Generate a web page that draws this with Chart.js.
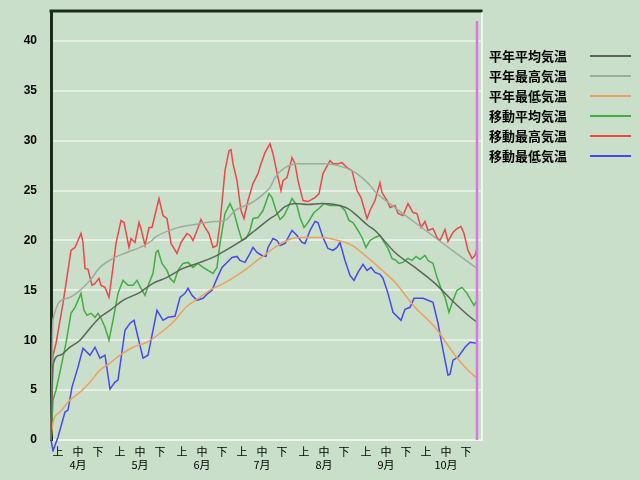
<!DOCTYPE html>
<html lang="ja">
<head>
<meta charset="UTF-8">
<title>気温グラフ</title>
<script src="https://cdn.jsdelivr.net/npm/chart.js"></script>
<style>
  body { margin: 0; background: #c9dfc9; }
  #wrap { width: 640px; height: 480px; }
</style>
</head>
<body>
<div id="wrap"><canvas id="tempChart" width="640" height="480"></canvas></div>
<script>
// x = days since Apr 1
const monthNames = ['4月', '5月', '6月', '7月', '8月', '9月', '10月'];
const decadeNames = ['上', '中', '下'];
const tickDays = [3.5, 13.5, 23.5, 34.5, 44.5, 54.5, 65.5, 75.5, 85.5, 95.5, 105.5, 115.5,
                  126.5, 136.5, 146.5, 157.5, 167.5, 177.5, 187.5, 197.5, 207.5];
const yTicks = [0, 5, 10, 15, 20, 25, 30, 35, 40];

// 平年平均気温
const normAvgDays = [0, 1, 4.5, 9.5, 14.5, 19.5, 24.5, 29.5, 36, 44.5, 51, 58, 66, 74.5, 82, 85.5,
                     95.5, 102, 109.5, 112, 117, 122, 128.5, 135.5, 142, 148.5, 153.5, 158.5, 162,
                     172, 182, 192, 202, 208.5, 213];
const normAvgVals = [0, 7.5, 8.5, 9.3, 10, 11.2, 12.3, 13, 14, 14.8, 15.7, 16.3, 17.2, 17.8, 18.4, 18.8,
                     20, 21, 22.2, 22.5, 23.4, 23.7, 23.6, 23.7, 23.6, 23.2, 22.4, 21.5, 21,
                     18.8, 17.3, 15.7, 13.7, 12.5, 11.8];

// 平年最高気温
const normMaxDays = [0, 1, 8, 14.5, 19.5, 24.5, 31, 38, 44.5, 50.5, 52, 62, 72, 82, 87, 92, 100.5,
                     107, 109.5, 112, 117, 123.5, 130.5, 137, 143.5, 150.5, 155.5, 160.5, 162,
                     172, 182, 192, 202, 213];
const normMaxVals = [0, 12.1, 14.2, 15, 16, 17.3, 18.2, 18.8, 19.3, 20, 20.3, 21.2, 21.6, 21.9, 22, 23, 23.8,
                     24.8, 25.3, 26.3, 27.3, 27.7, 27.7, 27.7, 27.5, 27, 26.3, 25.3, 24.9,
                     23.3, 21.8, 20.3, 18.8, 17.2];

// 平年最低気温
const normMinDays = [0, 1, 4.5, 9.5, 14.5, 19.5, 24.5, 29.5, 34.5, 41, 48, 54.5, 61, 68, 74.5, 81,
                     84.5, 94.5, 104.5, 113.5, 120.5, 127, 135.5, 143.5, 150.5, 157, 164.5, 172,
                     182, 192, 202, 208.5, 213];
const normMinVals = [0, 1.8, 2.8, 4, 4.8, 5.8, 7, 7.7, 8.5, 9.3, 9.8, 10.7, 11.8, 13.4, 14.3, 15.2,
                     15.5, 16.7, 18.2, 19.5, 20.2, 20.3, 20.3, 20, 19.5, 18.5, 17.2, 15.8,
                     13.3, 11.3, 8.5, 7, 6.2];

// 移動平均気温
const movAvgDays = [
  0, 1, 2.5, 5, 7.5, 10, 12, 15, 16.5, 18,
  20, 22, 23.5, 25, 27, 29, 31, 33.5, 36, 38.5,
  41, 43, 45, 47, 49, 51, 52.5, 53.5, 55.5, 58,
  59.5, 61.5, 63.5, 66, 68.5, 71, 73.5, 76, 78.5, 81,
  83, 84.5, 87, 89.5, 91.5, 93.5, 95.5, 97.5, 99.5, 101,
  103.5, 106, 109, 110.5, 112.5, 114.5, 116.5, 118.5, 120.5, 123,
  124.5, 126.5, 128.5, 131.5, 134, 136.5, 139.5, 142, 144.5, 147,
  149, 151, 153.5, 155.5, 157.5, 159.5, 162, 164.5, 166, 168.5,
  170.5, 172.5, 174, 176, 178.5, 180.5, 182.5, 184.5, 187, 188.5,
  191, 193, 195, 197, 199, 200.5, 203, 205.5, 208, 210,
  211.5, 213];
const movAvgVals = [
  0, 4, 5, 7.3, 9.7, 12.7, 13.3, 14.7, 13, 12.5,
  12.7, 12.3, 12.7, 12.2, 11.3, 10, 12, 14.7, 16, 15.5,
  15.5, 16, 15.2, 14.5, 15.7, 16.7, 18.8, 19, 17.7, 17,
  16.2, 15.8, 17, 17.7, 17.8, 17.3, 17.7, 17.3, 17, 16.7,
  17.3, 19.7, 22.7, 23.7, 22.8, 21.3, 20, 20.2, 21, 22.2,
  22.3, 23, 24.7, 24.3, 23, 22.1, 22.5, 23.3, 24.2, 23.5,
  22.3, 21.3, 21.8, 22.8, 23.2, 23.7, 23.5, 23.5, 23.5, 23,
  22, 21.8, 21, 20.3, 19.3, 20, 20.3, 20.5, 20, 19.2,
  18.2, 18, 17.7, 17.8, 18.2, 18, 18.4, 18.1, 18.5, 18,
  17.7, 16.3, 15.2, 14.3, 12.8, 13.7, 15, 15.3, 14.7, 14,
  13.5, 14];

// 移動最高気温
const movMaxDays = [
  0, 1, 2.5, 6, 10, 12, 15, 16, 17, 18.5,
  20.5, 22, 24, 25, 27, 29, 31, 32.5, 35, 36.5,
  39, 40, 42, 44, 45, 47, 49, 50.5, 54, 56,
  58, 60, 63, 65, 68, 69.5, 71, 73, 75, 77,
  79, 81, 83, 84.5, 87, 89, 90, 91, 93, 95,
  96.5, 98.5, 101, 103.5, 105, 107, 109.5, 111, 113.5, 115,
  116, 118, 120.5, 122, 123.5, 126, 128.5, 132, 134, 136,
  139.5, 141, 143.5, 145.5, 148, 150.5, 153, 155, 158, 159.5,
  162, 164.5, 165.5, 168, 169.5, 172, 173.5, 176, 178.5, 181,
  183, 185, 187, 188.5, 191, 193, 194.5, 197, 198.5, 201,
  203, 205, 206.5, 208.5, 210.5, 212, 213];
const movMaxVals = [
  0, 8.5, 9.7, 13.7, 19, 19.3, 20.7, 19.8, 17.2, 17.1,
  15.5, 15.7, 16.2, 15.5, 15.3, 14.3, 17.3, 19.7, 22, 21.8,
  19.3, 20.2, 19.8, 21.8, 21.2, 19.5, 21.3, 21.3, 24.2, 22.5,
  22.2, 19.7, 18.7, 19.8, 20.7, 20.5, 20, 21, 22.1, 21.3,
  20.7, 19.3, 19.5, 21.7, 27, 29, 29.1, 27.7, 26, 23,
  22.2, 24, 25.7, 26.7, 27.7, 28.8, 29.7, 28.7, 26.3, 25,
  26, 26.3, 28.3, 27.7, 26, 24, 23.9, 24.3, 24.7, 26.7,
  28, 27.7, 27.7, 27.8, 27.3, 27, 25, 24.3, 22.2, 23,
  24, 25.8, 24.8, 24, 23.3, 23.5, 22.7, 22.5, 23.7, 22.8,
  22.7, 21.3, 21.9, 21, 21.2, 20.3, 20, 21.1, 19.9, 20.8,
  21.2, 21.4, 20.7, 19, 18.2, 18.5, 19.2];

// 移動最低気温
const movMinDays = [
  0, 1, 3.5, 7, 8.5, 10.5, 13.5, 16, 19.5, 22,
  24.5, 27, 29.5, 32, 33.5, 37, 39.5, 41.5, 46, 48.5,
  53, 56, 58.5, 62, 64.5, 67, 68.5, 70.5, 73, 76,
  78.5, 80.5, 83, 85.5, 88, 90.5, 93, 94.5, 97, 99.5,
  101, 103, 105.5, 107.5, 108.5, 111, 113, 114.5, 117, 120.5,
  123, 125.5, 127, 129.5, 132, 133.5, 136, 138.5, 141, 143,
  144.5, 147, 149.5, 151.5, 153.5, 156, 158, 160, 162, 164.5,
  166, 168.5, 171, 175, 177, 179.5, 181.5, 186, 191, 193.5,
  196, 198.5, 199.5, 201, 203.5, 207, 209.5, 213];
const movMinVals = [
  0, -1.1, 0.3, 2.8, 3, 5.3, 7.3, 9.2, 8.5, 9.3,
  8.2, 8.5, 5.1, 5.8, 6, 11, 11.7, 12, 8.2, 8.5,
  13, 12, 12.3, 12.4, 14.3, 14.7, 15.2, 14.5, 14, 14.2,
  14.7, 15, 16.2, 17.3, 17.8, 18.3, 18.4, 18, 17.8, 18.7,
  19.3, 18.8, 18.5, 18.4, 19.3, 20.2, 20, 19.5, 19.7, 21,
  20.5, 19.8, 19.7, 21, 21.9, 21.8, 20.3, 19.2, 19, 19.3,
  19.8, 18, 16.5, 16, 16.8, 17.6, 17, 17.3, 16.8, 16.6,
  16.2, 14.7, 12.8, 12, 13.1, 13.3, 14.2, 14.2, 13.8, 11.7,
  9, 6.5, 6.6, 8, 8.3, 9.3, 9.8, 9.7];

// today marker
const todayDay = 213;
const todayRange = [0, 42];

function toPoints(days, vals) {
  return days.map((d, i) => ({ x: d, y: vals[i] }));
}

function series(label, days, vals, color, smooth) {
  return {
    label: label,
    data: toPoints(days, vals),
    borderColor: color,
    borderWidth: 1.5,
    pointRadius: 0,
    fill: false,
    tension: 0,
    clip: 12,
    cubicInterpolationMode: smooth ? 'monotone' : 'default'
  };
}

// legend drawn at the right side
const sideLegend = {
  id: 'sideLegend',
  afterDraw(chart) {
    const ctx = chart.ctx;
    ctx.save();
    ctx.font = 'bold 13px "Noto Sans CJK JP"';
    ctx.textBaseline = 'middle';
    chart.data.datasets.filter(ds => ds.label).forEach((ds, i) => {
      const y = 56 + i * 20;
      ctx.fillStyle = '#000';
      ctx.fillText(ds.label, 489, y);
      ctx.strokeStyle = ds.borderColor;
      ctx.lineWidth = 2;
      ctx.beginPath();
      ctx.moveTo(590, y);
      ctx.lineTo(631, y);
      ctx.stroke();
    });
    ctx.restore();
  }
};

// top black line and right white line of the plot frame
const frame = {
  id: 'frame',
  afterDraw(chart) {
    const a = chart.chartArea;
    const ctx = chart.ctx;
    ctx.save();
    ctx.fillStyle = '#1c2a1c';
    ctx.fillRect(a.left - 1.5, a.top - 1.5, a.right - a.left + 3, 3);
    ctx.strokeStyle = '#eef4ee';
    ctx.lineWidth = 2;
    ctx.beginPath();
    ctx.moveTo(a.right + 1, a.top + 1.5);
    ctx.lineTo(a.right + 1, a.bottom + 1);
    ctx.stroke();
    ctx.restore();
  }
};

new Chart(document.getElementById('tempChart'), {
  type: 'line',
  data: {
    datasets: [
      series('平年平均気温', normAvgDays, normAvgVals, '#5a665a', true),
      series('平年最高気温', normMaxDays, normMaxVals, '#a0aaa0', true),
      series('平年最低気温', normMinDays, normMinVals, '#eda060', true),
      series('移動平均気温', movAvgDays, movAvgVals, '#40ae40', false),
      series('移動最高気温', movMaxDays, movMaxVals, '#ec4848', false),
      series('移動最低気温', movMinDays, movMinVals, '#4848f0', false),
      {
        data: todayRange.map(v => ({ x: todayDay, y: v })),
        borderColor: '#dc78dc',
        borderWidth: 2.5,
        pointRadius: 0,
        order: -1
      }
    ]
  },
  options: {
    responsive: false,
    animation: false,
    events: [],
    layout: { autoPadding: false, padding: { top: 11, right: 159, left: 0, bottom: 0 } },
    plugins: { legend: { display: false }, tooltip: { enabled: false } },
    scales: {
      x: {
        type: 'linear',
        min: 0,
        max: 215,
        afterFit(scale) {
          scale.height = 40;
          scale.paddingLeft = 0;
          scale.paddingRight = 0;
        },
        afterBuildTicks(scale) { scale.ticks = tickDays.map(d => ({ value: d })); },
        grid: { display: false, drawTicks: false },
        border: { display: true, color: '#eef4ee', width: 2 },
        ticks: {
          autoSkip: false,
          maxRotation: 0,
          padding: 5,
          color: '#000',
          font: { family: '"Noto Sans CJK JP"', size: 11 },
          callback: (value, index) => index % 3 === 1
            ? [decadeNames[1], monthNames[(index - 1) / 3]]
            : decadeNames[index % 3]
        }
      },
      y: {
        min: 0,
        max: 43,
        afterFit(scale) {
          scale.width = 51;
          scale.paddingTop = 0;
          scale.paddingBottom = 0;
        },
        afterBuildTicks(scale) { scale.ticks = yTicks.map(v => ({ value: v })); },
        grid: { color: '#e6efe5', lineWidth: 2, drawTicks: false },
        border: { display: true, color: '#1c2a1c', width: 3 },
        ticks: {
          padding: 14,
          color: '#000',
          font: { family: '"Liberation Sans"', size: 12, weight: 'bold' }
        }
      }
    }
  },
  plugins: [sideLegend, frame]
});
</script>
</body>
</html>
